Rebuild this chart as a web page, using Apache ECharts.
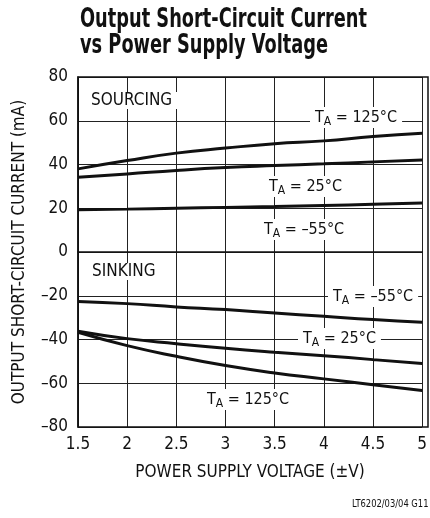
<!DOCTYPE html>
<html>
<head>
<meta charset="utf-8">
<script src="https://cdn.jsdelivr.net/npm/echarts@6/dist/echarts.min.js"></script>
<style>
  html, body { margin: 0; padding: 0; background: #fff; }
  #chart { width: 430px; height: 518px; }
</style>
</head>
<body>
<div id="chart"></div>
<script>
const FONT = '"Liberation Sans Narrow", "DejaVu Sans Condensed", "Liberation Sans", sans-serif';

const voltage = [1.5, 2, 2.5, 3, 3.5, 4, 4.5, 5];
// sourcing current (mA)
const src125 = [38, 41.8, 45.2, 47.5, 49.5, 50.8, 52.8, 54.3];
const src25 = [34.2, 35.7, 37.3, 38.6, 39.5, 40.3, 41.2, 42.1];
const srcM55 = [19.3, 19.6, 20.0, 20.4, 20.8, 21.3, 21.8, 22.4];
// sinking current (mA)
const snkM55 = [-22.6, -23.6, -25.1, -26.3, -27.9, -29.4, -30.9, -32.1];
const snk25 = [-36.2, -39.6, -41.9, -44, -45.8, -47.4, -49.2, -51];
const snk125 = [-36.7, -42.8, -47.7, -51.9, -55.3, -58, -60.7, -63.3];

const pair = (ys) => voltage.map((x, i) => [x, ys[i]]);

const myChart = echarts.init(document.getElementById('chart'));

const tLabel = (temp, x, y) => ({
  type: 'text',
  left: x,
  top: y,
  z: 100,
  style: {
    text: 'T{sub|A} = ' + temp,
    font: '16px ' + FONT,
    fill: '#111',
    backgroundColor: '#fff',
    padding: [0, 5, 0, 5],
    rich: {
      sub: { fontSize: 12, fontFamily: FONT, fill: '#111', padding: [9, 0, 0, 0] }
    }
  }
});

const lineSeries = (ys) => ({
  type: 'line',
  data: pair(ys),
  smooth: true,
  symbol: 'none',
  lineStyle: { color: '#111', width: 3 },
  z: 10
});

const option = {
  animation: false,
  grid: { left: 78, right: 2, top: 77, bottom: 91 },
  xAxis: {
    type: 'value',
    min: 1.5,
    max: 5,
    interval: 0.5,
    name: 'POWER SUPPLY VOLTAGE (±V)',
    nameLocation: 'middle',
    nameGap: 37,
    nameTextStyle: { fontFamily: FONT, fontSize: 17, color: '#111' },
    axisLine: { lineStyle: { color: '#111', width: 1.5 } },
    axisTick: { show: false },
    axisLabel: { fontFamily: FONT, fontSize: 17, color: '#111', margin: 9 },
    splitLine: { lineStyle: { color: '#222', width: 1 } }
  },
  yAxis: {
    type: 'value',
    min: -80,
    max: 80,
    interval: 20,
    name: 'OUTPUT SHORT-CIRCUIT CURRENT (mA)',
    nameLocation: 'middle',
    nameGap: 50,
    nameTextStyle: { fontFamily: FONT, fontSize: 17, color: '#111' },
    axisLine: { show: true, lineStyle: { color: '#111', width: 1.5 } },
    axisTick: { show: false },
    axisLabel: {
      fontFamily: FONT, fontSize: 17, color: '#111', margin: 10,
      formatter: (v) => String(v).replace('-', '\u2013')
    },
    splitLine: { lineStyle: { color: '#222', width: 1 } }
  },
  graphic: [
    { type: 'rect', shape: { x: 78, y: 77, width: 350, height: 350 }, style: { fill: 'none', stroke: '#111', lineWidth: 1.5 }, z: 50 },
    {
      type: 'text', x: 80, y: 7, scaleX: 0.76,
      style: { text: 'Output Short-Circuit Current\nvs Power Supply Voltage', font: 'bold 26px ' + FONT, fill: '#111', lineHeight: 26 }
    },
    { type: 'text', left: 85, top: 92, z: 100, style: { text: 'SOURCING', font: '17px ' + FONT, fill: '#111', backgroundColor: '#fff', padding: [0, 6, 0, 6] } },
    { type: 'text', left: 86, top: 263, z: 100, style: { text: 'SINKING', font: '17px ' + FONT, fill: '#111', backgroundColor: '#fff', padding: [0, 6, 0, 6] } },
    tLabel('125°C', 310, 107),
    tLabel('25°C', 264, 176),
    tLabel('\u201355°C', 259, 219),
    tLabel('\u201355°C', 328, 286),
    tLabel('25°C', 298, 328),
    tLabel('125°C', 202, 389),
    {
      type: 'text', x: 352, y: 499, scaleX: 0.93,
      style: { text: 'LT6202/03/04 G11', font: '10px ' + FONT, fill: '#111' }
    }
  ],
  series: [
    lineSeries(src125),
    lineSeries(src25),
    lineSeries(srcM55),
    lineSeries(snkM55),
    lineSeries(snk25),
    lineSeries(snk125)
  ]
};

myChart.setOption(option);
window.onresize = function () {
  myChart.resize();
};
</script>
</body>
</html>
